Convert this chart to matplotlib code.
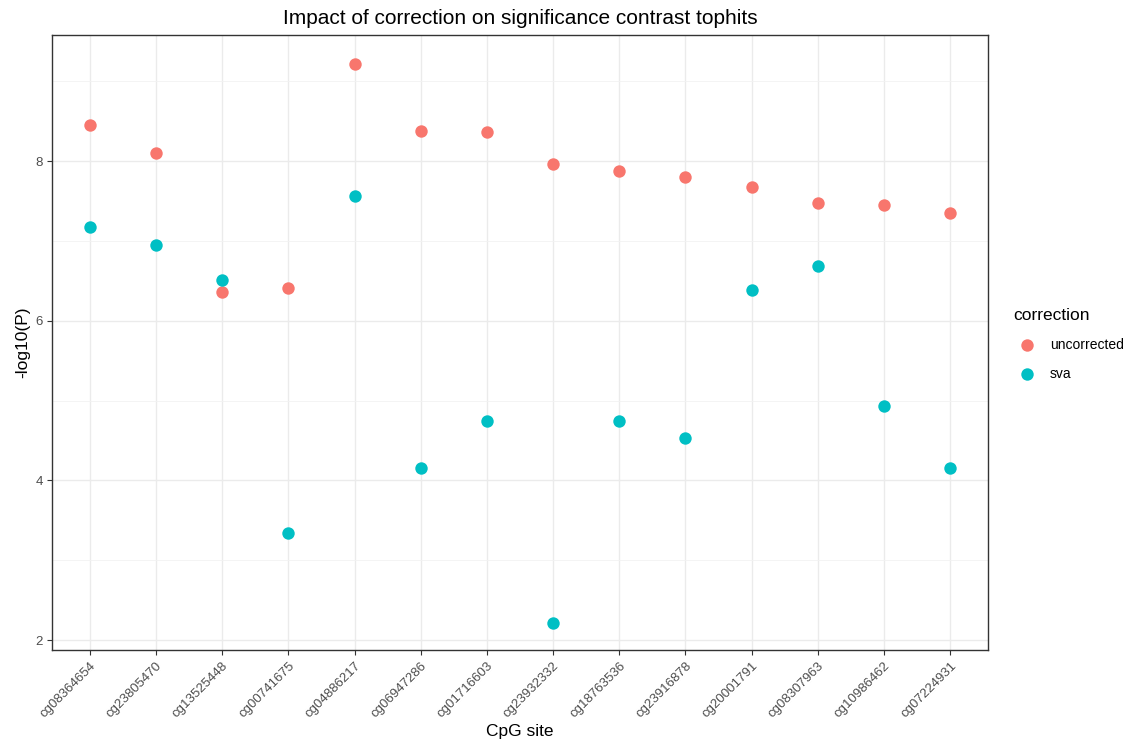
import matplotlib
matplotlib.use("Agg")
import matplotlib.pyplot as plt
import numpy as np

plt.rcParams['font.family'] = ['Liberation Sans', 'DejaVu Sans']

sites = ["cg08364654", "cg23805470", "cg13525448", "cg00741675", "cg04886217",
         "cg06947286", "cg01716603", "cg23932332", "cg18763536", "cg23916878",
         "cg20001791", "cg08307963", "cg10986462", "cg07224931"]
uncorrected = [8.45, 8.10, 6.36, 6.41, 9.22, 8.38, 8.36, 7.97, 7.87, 7.80, 7.67, 7.47, 7.45, 7.35]
sva = [7.18, 6.95, 6.51, 3.34, 7.56, 4.16, 4.75, 2.21, 4.74, 4.53, 6.38, 6.68, 4.93, 4.15]
series_names = ["uncorrected", "sva"]
colors = ["#F8766D", "#00BFC4"]

fig = plt.figure(figsize=(11.28, 7.51), dpi=100)
ax = fig.add_axes([52/1128, 1-650/751, (988-52)/1128, (650-35)/751])

x = np.arange(len(sites))
for name, vals, c in zip(series_names, [uncorrected, sva], colors):
    ax.scatter(x, vals, s=80, color=c, label=name, zorder=3, linewidths=0)

ax.set_xlim(-0.57, len(sites) - 1 + 0.57)
ax.set_ylim(1.875, 9.58)
ax.set_yticks([2, 4, 6, 8])
ax.set_yticks([3, 5, 7, 9], minor=True)
ax.set_xticks(x)
ax.set_xticklabels(sites, rotation=45, ha='right', rotation_mode='anchor', fontsize=9.5, color='#4D4D4D')
ax.tick_params(axis='y', labelsize=9.5, labelcolor='#4D4D4D', pad=3)
ax.tick_params(axis='both', which='major', length=3.5, width=0.8, color='#333333')
ax.tick_params(axis='both', which='minor', length=0)
ax.grid(True, which='major', color='#EBEBEB', linewidth=1.0, zorder=0)
ax.grid(True, which='minor', axis='y', color='#F2F2F2', linewidth=0.6, zorder=0)
ax.set_axisbelow(True)
for sp in ax.spines.values():
    sp.set_color('#333333')
    sp.set_linewidth(1.0)

ax.set_xlabel("CpG site", fontsize=12.5, labelpad=3)
ax.set_ylabel("-log10(P)", fontsize=12.5, labelpad=4)
ax.set_title("Impact of correction on significance contrast tophits", fontsize=15, pad=8)

leg = ax.legend(title="correction", loc='upper left', bbox_to_anchor=(1008/1128, 1-302/751),
                bbox_transform=fig.transFigure, frameon=False, fontsize=10, title_fontsize=12.5,
                handletextpad=0.6, labelspacing=1.1, borderaxespad=0, markerscale=1.0)
leg._legend_box.align = "left"

fig.savefig("out.png", dpi=100)
